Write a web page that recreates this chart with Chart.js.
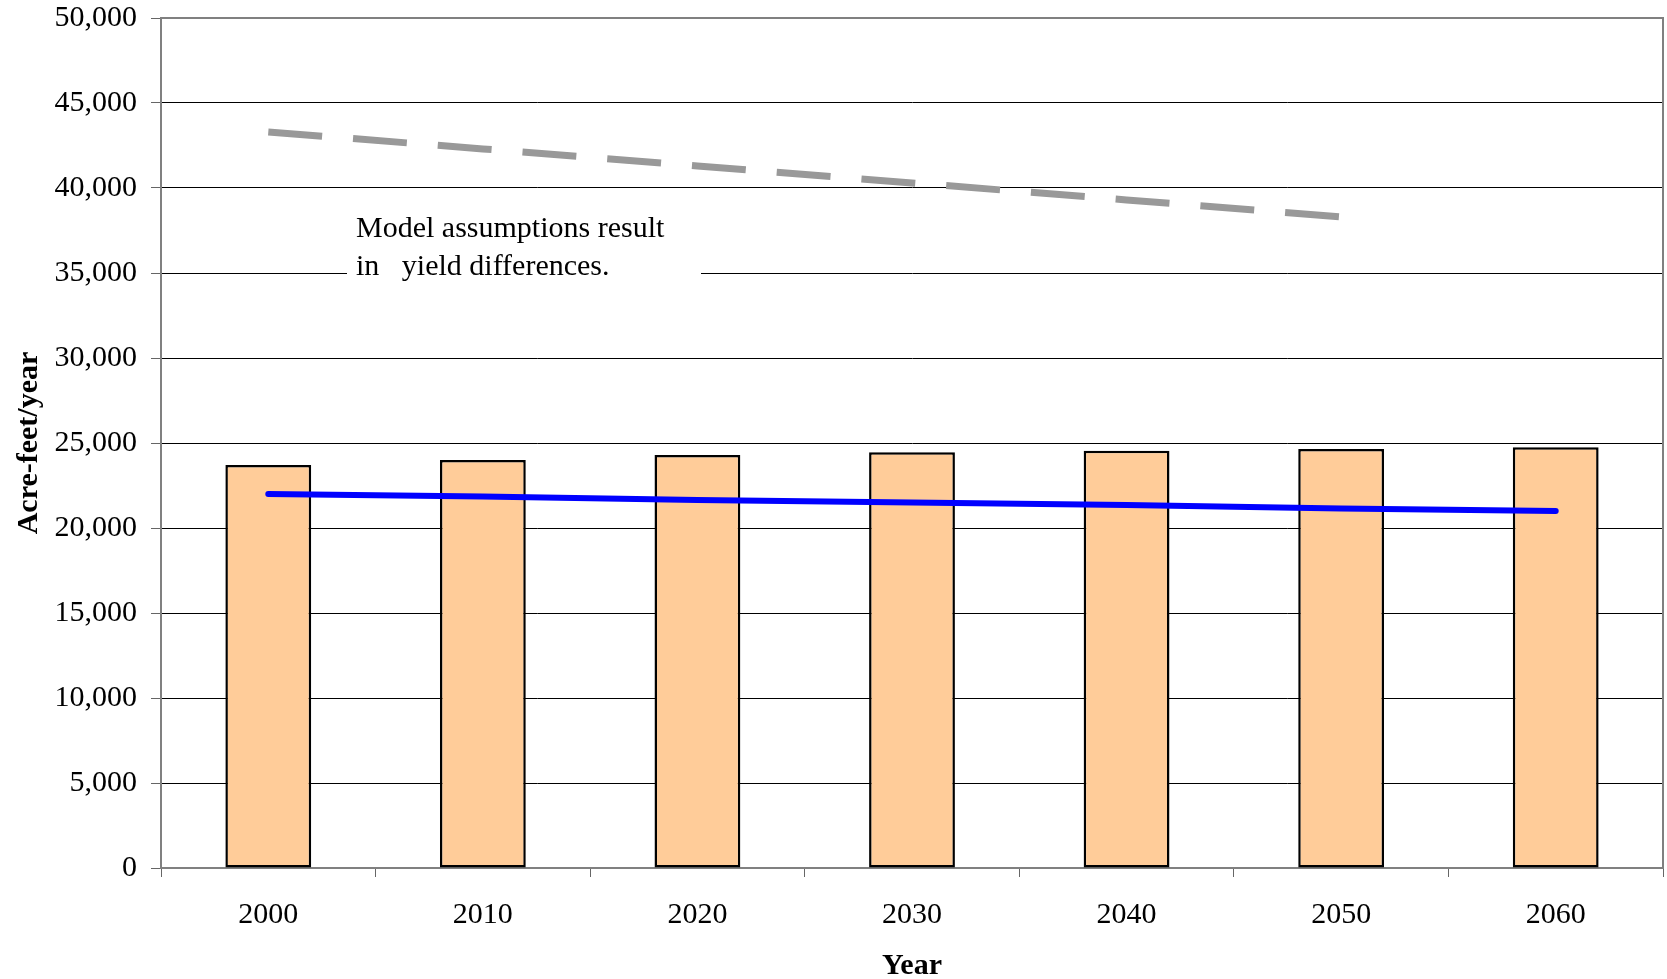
<!DOCTYPE html>
<html>
<head>
<meta charset="utf-8">
<script src="https://cdn.jsdelivr.net/npm/chart.js@4.4.1/dist/chart.umd.min.js"></script>
<style>
  html, body { margin: 0; padding: 0; background: #fff; }
  #wrap { width: 1667px; height: 979px; }
</style>
</head>
<body>
<div id="wrap"><canvas id="c" width="1667" height="979"></canvas></div>
<script>
// data
const years = ['2000', '2010', '2020', '2030', '2040', '2050', '2060'];
const barValues = [23700, 24000, 24300, 24450, 24550, 24650, 24750];
const blueValues = [22000, 21850, 21650, 21500, 21350, 21150, 21000];
const grayValues = [43300, 42300, 41300, 40300, 39300, 38300, null];
const yTickValues = [0, 5000, 10000, 15000, 20000, 25000, 30000, 35000, 40000, 45000, 50000];
const noteLines = ['Model assumptions result', 'in   yield differences.'];

const SERIF = '"Liberation Serif", "Times New Roman", serif';

// plot frame + the text box over the grid
const notePlugin = {
  id: 'note',
  beforeDatasetsDraw(chart) {
    const { ctx, chartArea: a } = chart;
    ctx.save();
    ctx.strokeStyle = '#808080';
    ctx.lineWidth = 2;
    ctx.beginPath();
    ctx.moveTo(a.left, a.top);
    ctx.lineTo(a.right, a.top);
    ctx.lineTo(a.right, a.bottom);
    ctx.stroke();

    ctx.fillStyle = '#fff';
    ctx.fillRect(347, 200, 354, 88);
    ctx.fillStyle = '#000';
    ctx.font = '30px ' + SERIF;
    ctx.textBaseline = 'alphabetic';
    ctx.textAlign = 'left';
    ctx.fillText(noteLines[0], 356, 237);
    ctx.fillText(noteLines[1], 356, 275);
    ctx.restore();
  }
};

new Chart(document.getElementById('c'), {
  type: 'bar',
  data: {
    labels: years,
    datasets: [
      {
        type: 'line',
        data: grayValues,
        borderColor: '#999999',
        borderWidth: 7,
        borderDash: [54, 31],
        borderCapStyle: 'butt',
        pointRadius: 0,
        fill: false,
        order: 0,
      },
      {
        type: 'line',
        data: blueValues,
        borderColor: '#0000ff',
        borderWidth: 6,
        borderCapStyle: 'round',
        pointRadius: 0,
        fill: false,
        order: 1,
      },
      {
        type: 'bar',
        data: barValues,
        backgroundColor: '#ffcc99',
        borderColor: '#000',
        borderWidth: 2.5,
        borderSkipped: false,
        barPercentage: 0.4,
        categoryPercentage: 1,
        order: 2,
      },
    ],
  },
  options: {
    responsive: false,
    animation: false,
    devicePixelRatio: 1,
    layout: { padding: { top: 18, right: 4, left: 0, bottom: 0 } },
    plugins: {
      legend: { display: false },
      tooltip: { enabled: false },
    },
    scales: {
      x: {
        offset: true,
        afterFit: s => { s.height = 111; s.paddingLeft = 0; s.paddingRight = 0; },
        grid: {
          offset: true,
          drawOnChartArea: false,
          drawTicks: true,
          tickLength: 9,
          tickColor: '#666',
          tickWidth: 1,
        },
        border: { color: '#808080', width: 2 },
        ticks: {
          color: '#000',
          padding: 23,
          font: { family: SERIF, size: 30, lineHeight: 1 },
        },
        title: {
          display: true,
          text: 'Year',
          color: '#000',
          padding: { top: 0, bottom: -2 },
          font: { family: SERIF, size: 30, weight: 'bold', lineHeight: 1 },
        },
      },
      y: {
        min: 0,
        max: 50000,
        afterFit: s => { s.width = 161; s.paddingTop = 0; s.paddingBottom = 0; },
        afterBuildTicks: s => { s.ticks = yTickValues.map(v => ({ value: v })); },
        grid: {
          color: '#000',
          lineWidth: 1,
          drawTicks: true,
          tickLength: 10,
          tickColor: '#666',
        },
        border: { color: '#808080', width: 2 },
        ticks: {
          color: '#000',
          padding: 14,
          font: { family: SERIF, size: 30, lineHeight: 1 },
          callback: v => Number(v).toLocaleString('en-US'),
        },
        title: {
          display: true,
          text: 'Acre-feet/year',
          color: '#000',
          padding: { top: 14, bottom: 0 },
          font: { family: SERIF, size: 30, weight: 'bold', lineHeight: 1 },
        },
      },
    },
  },
  plugins: [notePlugin],
});
</script>
</body>
</html>
